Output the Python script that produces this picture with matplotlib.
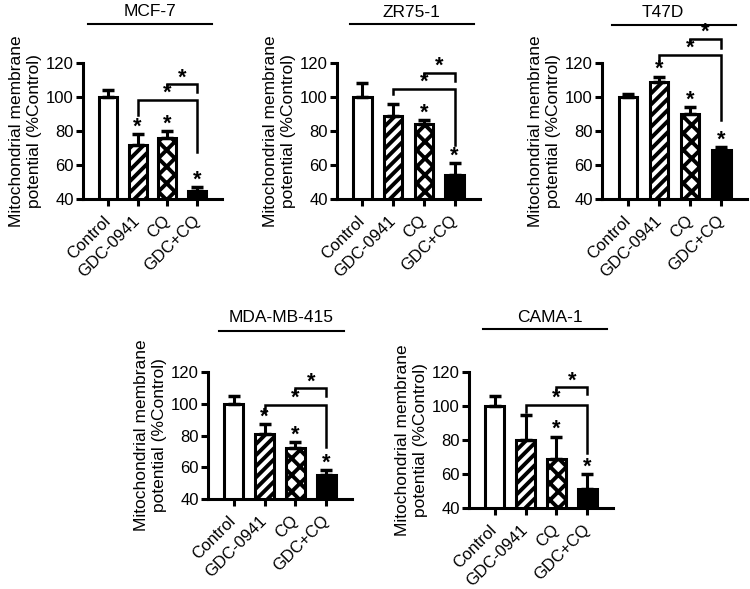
import numpy as np
import matplotlib
matplotlib.use("Agg")
import matplotlib.pyplot as plt

plt.rcParams['font.family'] = ['Liberation Sans', 'DejaVu Sans']
plt.rcParams['hatch.linewidth'] = 2.8

groups = ["Control", "GDC-0941", "CQ", "GDC+CQ"]

# mean values (%Control) and upward SD
mcf7_vals = [100, 72, 76, 45]
mcf7_err = [4, 6, 4, 2]
mcf7_star = [0, 1, 1, 1]

zr75_vals = [100, 89, 84, 54]
zr75_err = [8, 7, 2.5, 7]
zr75_star = [0, 0, 1, 1]

t47d_vals = [100, 109, 90, 69]
t47d_err = [2, 3, 4, 1.5]
t47d_star = [0, 1, 1, 1]

mda_vals = [100, 81, 72, 55]
mda_err = [5, 6, 4, 3]
mda_star = [0, 1, 1, 1]

cama_vals = [100, 80, 69, 51]
cama_err = [6, 15, 13, 9]
cama_star = [0, 0, 1, 1]

# brackets: (from bar, to bar, line level, left leg end, right leg end)
mcf7_br = [(1, 3, 98.5, 89.5, 67.5), (2, 3, 107.5, 106, 103)]
zr75_br = [(1, 3, 105, 101.5, 72), (2, 3, 114, 112.5, 109.5)]
t47d_br = [(1, 3, 125, 121, 86.5), (2, 3, 134, 132.5, 129)]
mda_br = [(1, 3, 99.2, 95, 73), (2, 3, 109.7, 107.6, 105)]
cama_br = [(1, 3, 100.6, 96.7, 72.2), (2, 3, 111, 109.4, 107)]

faces = ["white", "white", "white", "black"]
hatches = [None, "///", "xx", None]

fig = plt.figure(figsize=(7.5, 5.89), dpi=100)


def panel(rect, name, vals, err, star, brackets, line_x, title_x, line_dy, title_dy):
    ax = fig.add_axes(rect)
    x = np.arange(len(groups))
    ax.bar(x, vals, width=0.6, bottom=0, color=faces, edgecolor="black",
           linewidth=2.2, zorder=2)
    for i, b in enumerate(ax.patches):
        if hatches[i]:
            b.set_hatch(hatches[i])
    ax.errorbar(x, vals, yerr=[np.zeros(len(vals)), err], fmt="none",
                ecolor="black", elinewidth=2.2, capsize=4.5, capthick=2.5, zorder=3)
    for i in range(len(vals)):
        if star[i]:
            ax.text(x[i], vals[i] + err[i] + 1.0, "*", ha="center", va="baseline",
                    fontsize=15.5, fontweight="bold", clip_on=False)
    for a, b, lev, l1, l2 in brackets:
        ax.plot([x[a], x[a], x[b], x[b]], [l1, lev, lev, l2], color="black",
                lw=1.8, clip_on=False, solid_joinstyle="miter")
        ax.text((x[a] + x[b]) / 2, lev + 0.6, "*", ha="center", va="baseline",
                fontsize=15.5, fontweight="bold", clip_on=False)
    ax.set_ylim(40, 120)
    ax.set_xlim(-0.83, 3.83)
    ax.set_yticks([40, 60, 80, 100, 120])
    ax.set_xticks(x)
    ax.set_xticklabels(groups, rotation=45, ha="right", va="center",
                       rotation_mode="anchor")
    ax.tick_params(axis="both", labelsize=12, width=2.2, length=5, direction="out")
    ax.tick_params(axis="x", pad=9)
    ax.tick_params(axis="y", pad=1.5)
    for s in ["top", "right"]:
        ax.spines[s].set_visible(False)
    for s in ["left", "bottom"]:
        ax.spines[s].set_linewidth(2.2)
    ax.set_ylabel("Mitochondrial membrane\npotential (%Control)", fontsize=12.5,
                  labelpad=3, linespacing=1.25)
    # title with rule above the panel
    h = rect[3] * 589
    ax.plot(line_x, [1 + line_dy / h] * 2, transform=ax.transAxes, color="black",
            lw=1.5, clip_on=False)
    ax.text(title_x, 1 + title_dy / h, name, transform=ax.transAxes, ha="center",
            va="center", fontsize=12.5)
    return ax


panel([0.1107, 0.6621, 0.1853, 0.2309], "MCF-7", mcf7_vals, mcf7_err, mcf7_star,
      mcf7_br, [0.036, 0.928], 0.48, 39, 52)
panel([0.4493, 0.6621, 0.1907, 0.2309], "ZR75-1", zr75_vals, zr75_err, zr75_star,
      zr75_br, [0.091, 0.958], 0.52, 39, 51)
panel([0.8027, 0.6621, 0.1933, 0.2309], "T47D", t47d_vals, t47d_err, t47d_star,
      t47d_br, [0.069, 0.924], 0.42, 38.5, 51)
panel([0.2773, 0.1528, 0.1920, 0.2156], "MDA-MB-415", mda_vals, mda_err, mda_star,
      mda_br, [0.076, 0.944], 0.51, 41, 55)
panel([0.6253, 0.1375, 0.1920, 0.2309], "CAMA-1", cama_vals, cama_err, cama_star,
      cama_br, [0.097, 0.958], 0.56, 43, 55)

fig.savefig("out.png", dpi=100)
